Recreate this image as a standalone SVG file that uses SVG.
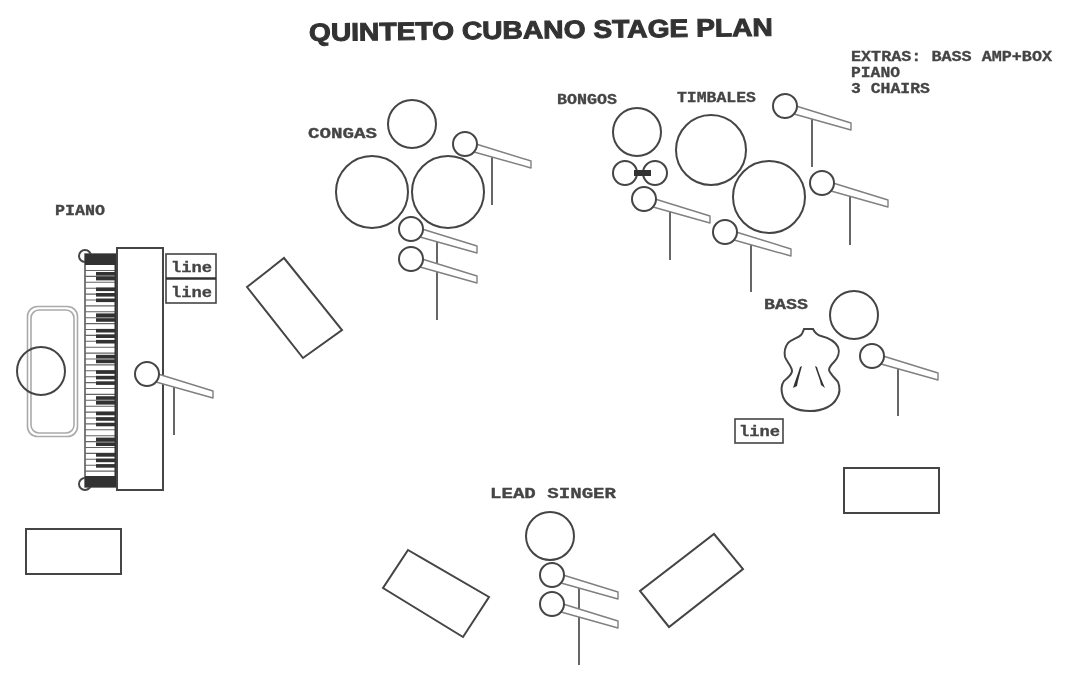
<svg xmlns="http://www.w3.org/2000/svg" xmlns:xlink="http://www.w3.org/1999/xlink" width="1076" height="681" viewBox="0 0 1076 681">
<style>
.o{fill:none;stroke:#444;stroke-width:2}
.w{fill:#fff;stroke:#444;stroke-width:2}
.b{fill:#fff;stroke:#808080;stroke-width:1.4;stroke-linejoin:round}
.s{stroke:#555;stroke-width:1.8;fill:none}
.t{font-family:"Liberation Mono",monospace;font-weight:bold;font-size:14px;fill:#444;stroke:#444;stroke-width:.3}
.k{fill:#333}
.g{fill:none;stroke:#aaa;stroke-width:1.6}
</style>
<defs>
<filter id="soft" x="-2%" y="-2%" width="104%" height="104%"><feGaussianBlur stdDeviation="0.5"/></filter>
<g id="mic">
<polygon class="b" points="11,0 66,17 66,24 9,8"/>
<circle class="w" r="12"/>
</g>
<g id="oct">
<rect class="k" x="96" y="0" width="20" height="3.6"/>
<rect class="k" x="96" y="4.8" width="20" height="3.6"/>
<rect class="k" x="96" y="15.5" width="20" height="3.6"/>
<rect class="k" x="96" y="21" width="20" height="3.6"/>
<rect class="k" x="96" y="26.5" width="20" height="3.6"/>
</g>
</defs>
<rect width="1076" height="681" fill="#fff"/>
<g filter="url(#soft)">
<g id="title"><text x="309" y="41" transform="rotate(-0.65 309 41)" font-family="'Liberation Sans',Arial,sans-serif" font-weight="bold" font-size="25" fill="#333" stroke="#333" stroke-width="1" textLength="464" lengthAdjust="spacingAndGlyphs">QUINTETO CUBANO STAGE PLAN</text></g>
<g id="extras">
<text class="t" x="851" y="61" textLength="201" lengthAdjust="spacingAndGlyphs">EXTRAS: BASS AMP+BOX</text>
<text class="t" x="851" y="77" textLength="49" lengthAdjust="spacingAndGlyphs">PIANO</text>
<text class="t" x="851" y="93" textLength="79" lengthAdjust="spacingAndGlyphs">3 CHAIRS</text>
</g>
<g id="piano">
<text class="t" x="55" y="215" textLength="50" lengthAdjust="spacingAndGlyphs">PIANO</text>
<rect x="27.500" y="306.500" width="50" height="130" rx="10" class="g"/>
<rect x="31" y="310" width="43" height="123" rx="8" class="g"/>
<circle class="o" cx="41" cy="371" r="24"/>
<circle class="w" cx="85" cy="256" r="6"/>
<circle class="w" cx="85" cy="484" r="6"/>
<rect x="85" y="254" width="32" height="233" fill="#fff" stroke="#444" stroke-width="1.4"/>
<path stroke="#666" stroke-width="1.1" d="M85 270.5H116M85 276.4H116M85 282.3H116M85 288.2H116M85 294.1H116M85 300H116M85 305.9H116M85 311.8H116M85 317.7H116M85 323.6H116M85 329.5H116M85 335.4H116M85 341.3H116M85 347.2H116M85 353.1H116M85 359H116M85 364.9H116M85 370.8H116M85 376.7H116M85 382.6H116M85 388.5H116M85 394.4H116M85 400.3H116M85 406.2H116M85 412.1H116M85 418H116M85 423.9H116M85 429.8H116M85 435.7H116M85 441.6H116M85 447.5H116M85 453.4H116M85 459.3H116M85 465.2H116M85 471.1H116"/>
<use xlink:href="#oct" href="#oct" y="272"/>
<use xlink:href="#oct" href="#oct" y="313.4"/>
<use xlink:href="#oct" href="#oct" y="354.8"/>
<use xlink:href="#oct" href="#oct" y="396.2"/>
<use xlink:href="#oct" href="#oct" y="437.6"/>
<rect class="k" x="85" y="254" width="32" height="11"/>
<rect class="k" x="85" y="476" width="32" height="11"/>
<rect class="k" x="114.500" y="254" width="3" height="233"/>
<rect class="w" x="117" y="248" width="46" height="242"/>
<rect x="166" y="254" width="50" height="49" fill="#fff" stroke="#444" stroke-width="1.6"/>
<line x1="166" y1="278.500" x2="216" y2="278.500" stroke="#333" stroke-width="2.4"/>
<text class="t" x="171" y="272" textLength="41" lengthAdjust="spacingAndGlyphs">line</text>
<text class="t" x="171" y="297" textLength="41" lengthAdjust="spacingAndGlyphs">line</text>
<line class="s" x1="174" y1="385" x2="174" y2="435"/>
<use xlink:href="#mic" href="#mic" x="147" y="374"/>
</g>
<g id="speaker-left"><rect class="o" x="26" y="529" width="95" height="45"/></g>
<g id="speaker-piano-front"><polygon class="o" points="247,287 284,258 342,330 303,358"/></g>
<g id="congas">
<text class="t" x="308" y="138" textLength="69" lengthAdjust="spacingAndGlyphs">CONGAS</text>
<circle class="o" cx="412" cy="124" r="24"/>
<circle class="o" cx="372" cy="192" r="36"/>
<circle class="o" cx="448" cy="192" r="36"/>
<line class="s" x1="492" y1="156" x2="492" y2="205"/>
<use xlink:href="#mic" href="#mic" x="465" y="144"/>
<line class="s" x1="437" y1="240" x2="437" y2="320"/>
<use xlink:href="#mic" href="#mic" x="411" y="229"/>
<use xlink:href="#mic" href="#mic" x="411" y="259"/>
</g>
<g id="bongos">
<text class="t" x="557" y="104" textLength="60" lengthAdjust="spacingAndGlyphs">BONGOS</text>
<circle class="o" cx="637" cy="132" r="24"/>
<circle class="o" cx="625" cy="173" r="12"/>
<circle class="o" cx="655" cy="173" r="12"/>
<rect class="k" x="634" y="170" width="17" height="6"/>
<line class="s" x1="670" y1="212" x2="670" y2="260"/>
<use xlink:href="#mic" href="#mic" x="644" y="199"/>
</g>
<g id="timbales">
<text class="t" x="677" y="102" textLength="79" lengthAdjust="spacingAndGlyphs">TIMBALES</text>
<circle class="o" cx="711" cy="150" r="35"/>
<circle class="o" cx="769" cy="197" r="36"/>
<line class="s" x1="812" y1="118" x2="812" y2="167"/>
<use xlink:href="#mic" href="#mic" x="785" y="106"/>
<line class="s" x1="850" y1="196" x2="850" y2="245"/>
<use xlink:href="#mic" href="#mic" x="822" y="183"/>
<line class="s" x1="751" y1="245" x2="751" y2="292"/>
<use xlink:href="#mic" href="#mic" x="725" y="232"/>
</g>
<g id="bass">
<text class="t" x="764" y="309" textLength="44" lengthAdjust="spacingAndGlyphs">BASS</text>
<circle class="o" cx="854" cy="315" r="24"/>
<path class="o" d="M804 329L813 329C815 333 817 335 821 336C829 338 835 341 838 347C840 352 838 358 834 362C831 365 829 367 829 370C830 374 835 378 838 382C840 387 840 393 837 398C833 406 823 411 810 411C797 411 787 406 783 397C781 391 781 385 784 381C788 377 792 375 792 371C792 367 787 362 785 357C784 352 785 347 788 343C792 339 798 338 801 335C803 333 803 331 804 329Z"/>
<path class="k" d="M802 366L800 367C798 374 795 381 793 388L797 386C798 380 800 373 802 366ZM815 366L817 367C819 374 822 381 825 388L821 385C820 379 817 373 815 366Z"/>
<rect x="735" y="419" width="48" height="24" fill="#fff" stroke="#444" stroke-width="1.6"/>
<text class="t" x="739" y="436" textLength="41" lengthAdjust="spacingAndGlyphs">line</text>
<line class="s" x1="898" y1="368" x2="898" y2="416"/>
<use xlink:href="#mic" href="#mic" x="872" y="356"/>
</g>
<g id="speaker-bass"><rect class="o" x="844" y="468" width="95" height="45"/></g>
<g id="lead-singer">
<text class="t" x="490" y="498" textLength="126" lengthAdjust="spacingAndGlyphs">LEAD SINGER</text>
<circle class="o" cx="550" cy="536" r="24"/>
<line class="s" x1="579" y1="587" x2="579" y2="665"/>
<use xlink:href="#mic" href="#mic" x="552" y="575"/>
<use xlink:href="#mic" href="#mic" x="552" y="604"/>
</g>
<g id="speaker-front-left"><polygon class="o" points="408,550 489,597 463,637 383,588"/></g>
<g id="speaker-front-right"><polygon class="o" points="714,534 743,569 669,627 640,591"/></g>
</g>
</svg>
